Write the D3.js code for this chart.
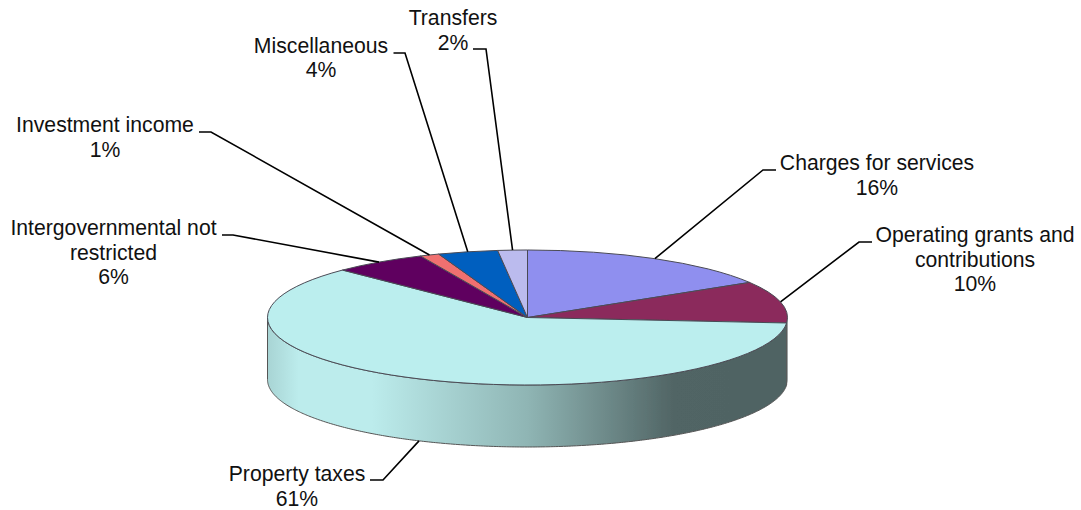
<!DOCTYPE html>
<html>
<head>
<meta charset="utf-8">
<script src="https://cdn.jsdelivr.net/npm/d3@7"></script>
<style>
  html, body { margin: 0; background: #fff; }
  text { font-family: "Liberation Sans", Arial, sans-serif; font-size: 21.2px; fill: #111; }
</style>
</head>
<body>
<div id="container"></div>
<script>
// in % of the pie, clockwise from 12 o'clock
var categories = ["Charges for services", "Operating grants and contributions", "Property taxes",
                  "Intergovernmental not restricted", "Investment income", "Miscellaneous", "Transfers"]
var values = [16.3, 10, 61.1, 5.85, 1.2, 3.72, 1.83]
var colours = ["#8f8fef", "#8b2c5b", "#bbeeee", "#5f005f", "#f07070", "#005fbf", "#bbbbee"]
var labelLines = [["Charges for services"], ["Operating grants and", "contributions"], ["Property taxes"],
                  ["Intergovernmental not", "restricted"], ["Investment income"], ["Miscellaneous"], ["Transfers"]]

// label centre x, first baseline y, leader start x and elbow x/y
var labelX = [877, 975, 297, 113.5, 105, 321, 453]
var labelY = [170, 242, 481, 235, 132, 52.5, 25]
var leaderStart = [776, 872, 370, 222, 199, 393.5, 473]
var elbowX = [763, 859, 383, 233, 211, 405, 486]
var elbowY = [170, 242, 480, 235, 132, 53, 49]

var width = 1081, height = 510
var cx = 527.5, cy = 317.5, rx = 260, ry = 67.5, depth = 62
var lineHeight = 24.5

var svg = d3.select("#container").append("svg")
    .attr("width", width)
    .attr("height", height)
    .style("display", "block")

var defs = svg.append("defs")

defs.append("filter")
    .attr("id", "soft")
    .append("feGaussianBlur")
      .attr("stdDeviation", 0.45)

var wallGradient = defs.append("linearGradient")
    .attr("id", "wall")
    .attr("gradientUnits", "userSpaceOnUse")
    .attr("x1", cx - rx).attr("x2", cx + rx)
    .attr("y1", 0).attr("y2", 0)

var wallStops = [[0, "#a8d4d4"], [0.06, "#bcecec"], [0.2, "#bcecec"], [0.5, "#8fb5b4"], [0.78, "#516565"], [1, "#4f6363"]]
wallStops.forEach(function(s) {
  wallGradient.append("stop").attr("offset", s[0]).attr("stop-color", s[1])
})

var arcs = d3.pie().sort(null)(values)

function px(a) { return cx + rx * Math.sin(a) }
function py(a) { return cy - ry * Math.cos(a) }

var pieGroup = svg.append("g").attr("filter", "url(#soft)")

// side wall, only the part facing the viewer
function wallPath(d) {
  var a0 = Math.max(d.startAngle, Math.PI / 2)
  var a1 = Math.min(d.endAngle, Math.PI * 1.5)
  if (a1 <= a0) return null
  var angles = d3.range(a0, a1, 0.01).concat([a1])
  var line = d3.line().x(function(a) { return px(a) })
  var top = line.y(function(a) { return py(a) })(angles)
  var bottom = line.y(function(a) { return py(a) + depth })(angles.slice().reverse())
  return top + "L" + bottom.slice(1) + "Z"
}

pieGroup.selectAll(".wall")
    .data(arcs.filter(wallPath))
  .enter().append("path")
    .attr("class", "wall")
    .attr("d", wallPath)
    .attr("fill", function(d) { return d.index === 2 ? "url(#wall)" : "#4f6363" })
    .attr("stroke", function(d) { return d.index === 2 ? "#555" : "none" })
    .attr("stroke-width", 1)

// top face: a circle squashed into an ellipse
var arc = d3.arc().innerRadius(0).outerRadius(rx)

pieGroup.append("g")
    .attr("transform", "translate(" + cx + "," + cy + ") scale(1," + (ry / rx) + ")")
  .selectAll("path")
    .data(arcs)
  .enter().append("path")
    .attr("d", arc)
    .attr("fill", function(d) { return colours[d.index] })
    .attr("stroke", "#4a4a55")
    .attr("stroke-width", 1)
    .attr("vector-effect", "non-scaling-stroke")

// leaders end at the middle of each slice's rim
var leaders = svg.append("g").attr("filter", "url(#soft)")

arcs.forEach(function(d, i) {
  var mid = (d.startAngle + d.endAngle) / 2
  var endY = py(mid) + (Math.cos(mid) < 0 ? depth : 0)
  leaders.append("path")
      .attr("d", d3.line()([[leaderStart[i], elbowY[i]], [elbowX[i], elbowY[i]], [px(mid), endY]]))
      .attr("fill", "none")
      .attr("stroke", "#000")
      .attr("stroke-width", 1.6)
})

// labels
categories.forEach(function(name, i) {
  var label = svg.append("text")
      .attr("text-anchor", "middle")
      .attr("y", labelY[i])
  labelLines[i].concat([Math.round(values[i]) + "%"]).forEach(function(t, j) {
    label.append("tspan")
        .attr("x", labelX[i])
        .attr("y", labelY[i] + j * lineHeight)
        .text(t)
  })
})
</script>
</body>
</html>
